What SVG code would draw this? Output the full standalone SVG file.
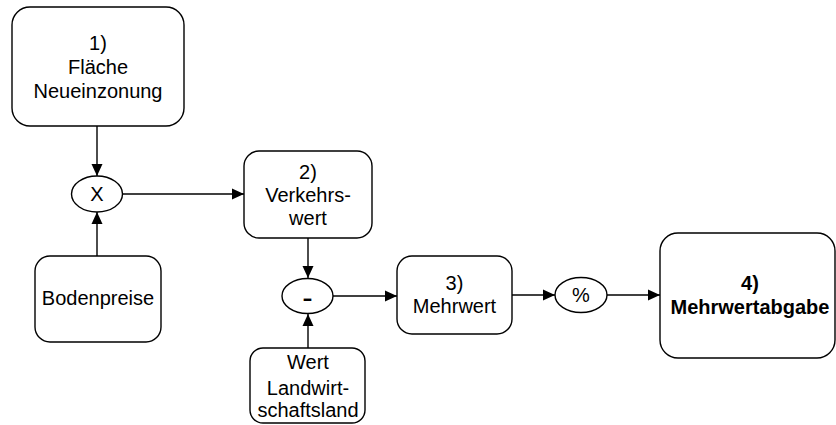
<svg xmlns="http://www.w3.org/2000/svg" width="836" height="425" viewBox="0 0 836 425">
  <style>
    .box { fill: #fff; stroke: #000; stroke-width: 1.4; }
    .op { fill: #fff; stroke: #000; stroke-width: 1.4; }
    .lbl { font-family: "Liberation Sans", Arial, sans-serif; font-size: 20px; fill: #000; text-anchor: middle; }
    .bold { font-weight: bold; }
    .edge { fill: none; stroke: #000; stroke-width: 1.4; marker-end: url(#arrow); }
  </style>
  <defs>
    <marker id="arrow" markerUnits="userSpaceOnUse" markerWidth="13" markerHeight="12" refX="12" refY="6" orient="auto">
      <path d="M0,0.5 L12,6 L0,11.5 z" fill="#000"/>
    </marker>
  </defs>
  <rect x="0" y="0" width="836" height="425" fill="#fff"/>

  <g id="edges">
    <path class="edge" d="M97,126 V176"/>
    <path class="edge" d="M97,256 V212"/>
    <path class="edge" d="M123,194 H244"/>
    <path class="edge" d="M308,238 V278"/>
    <path class="edge" d="M308,348 V314"/>
    <path class="edge" d="M333,296 H397"/>
    <path class="edge" d="M512,295 H555"/>
    <path class="edge" d="M607,295 H660"/>
  </g>

  <g id="n1">
    <rect class="box" x="12" y="7" width="172" height="119" rx="18"/>
    <text class="lbl" x="98" y="50">1)</text>
    <text class="lbl" x="98" y="74">Fläche</text>
    <text class="lbl" x="98" y="98">Neueinzonung</text>
  </g>

  <g id="mul">
    <ellipse class="op" cx="97" cy="194" rx="25.5" ry="18"/>
    <text class="lbl" x="97" y="201">X</text>
  </g>

  <g id="bodenpreise">
    <rect class="box" x="35" y="256" width="126" height="86" rx="15"/>
    <text class="lbl" x="98" y="305">Bodenpreise</text>
  </g>

  <g id="n2">
    <rect class="box" x="244" y="151" width="128" height="87" rx="15"/>
    <text class="lbl" x="308" y="179">2)</text>
    <text class="lbl" x="308" y="202">Verkehrs-</text>
    <text class="lbl" x="308" y="225">wert</text>
  </g>

  <g id="minus">
    <ellipse class="op" cx="307.5" cy="296" rx="25.5" ry="17.5"/>
    <text class="lbl bold" font-size="28" transform="translate(307.5,305) scale(1.5,1)">-</text>
  </g>

  <g id="landwirtschaft">
    <rect class="box" x="250" y="348" width="115" height="75" rx="13"/>
    <text class="lbl" x="308" y="369">Wert</text>
    <text class="lbl" x="308" y="395">Landwirt-</text>
    <text class="lbl" x="308" y="417">schaftsland</text>
  </g>

  <g id="n3">
    <rect class="box" x="397" y="256" width="115" height="78" rx="15"/>
    <text class="lbl" x="454.5" y="290">3)</text>
    <text class="lbl" x="454.5" y="313">Mehrwert</text>
  </g>

  <g id="percent">
    <ellipse class="op" cx="581" cy="295" rx="26" ry="17.5"/>
    <text class="lbl" x="581" y="302">%</text>
  </g>

  <g id="n4">
    <rect class="box" x="660" y="233" width="175" height="125" rx="18"/>
    <text class="lbl bold" x="750" y="290">4)</text>
    <text class="lbl bold" x="750" y="314">Mehrwertabgabe</text>
  </g>
</svg>
